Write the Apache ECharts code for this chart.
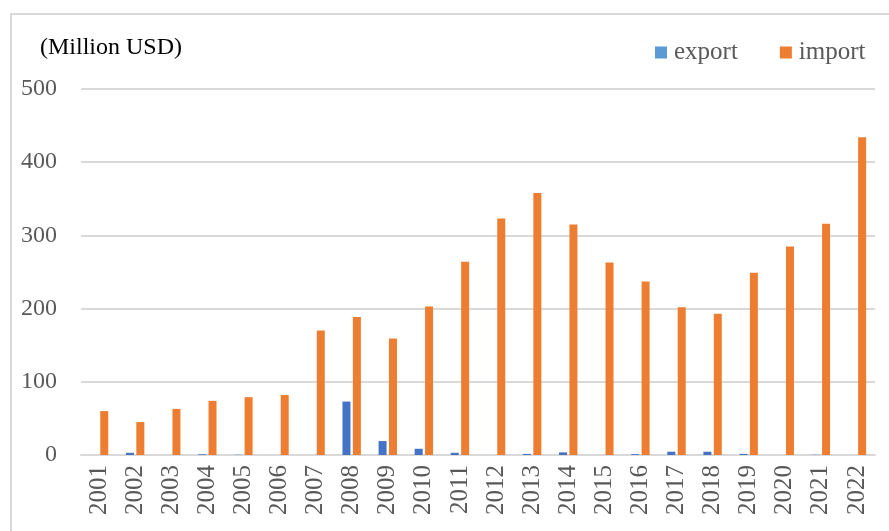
<!DOCTYPE html>
<html>
<head>
<meta charset="utf-8">
<script src="https://cdn.jsdelivr.net/npm/echarts@6/dist/echarts.min.js"></script>
<style>
  html, body { margin: 0; padding: 0; background: #fff; }
  #chart { width: 889px; height: 531px; }
</style>
</head>
<body>
<div id="chart"></div>
<script>
// Annual trade values, million USD
var years = ['2001','2002','2003','2004','2005','2006','2007','2008','2009','2010','2011',
             '2012','2013','2014','2015','2016','2017','2018','2019','2020','2021','2022'];
var exportValues = [0, 3, 0, 1, 0.3, 0, 0, 73, 19, 8.5, 3,
                    0, 1.5, 3.6, 0, 1.2, 4.5, 4.5, 1.5, 0, 0.3, 0];
var importValues = [60, 45, 63, 74, 79, 82, 170, 188.5, 159, 203, 264,
                    323, 358, 315, 263, 237, 202, 193, 249, 285, 316, 434];
var yTicks = [0, 100, 200, 300, 400, 500];

var serif = '"Liberation Serif", "DejaVu Serif", serif';
var chart = echarts.init(document.getElementById('chart'), null, { renderer: 'canvas' });

chart.setOption({
  animation: false,
  backgroundColor: '#ffffff',
  graphic: [
    {
      type: 'rect',
      shape: { x: 11, y: 14, width: 900, height: 600 },
      style: { fill: 'none', stroke: '#d9d9d9', lineWidth: 2 },
      silent: true
    },
    {
      type: 'text',
      left: 40,
      top: 36,
      style: { text: '(Million USD)', font: '24px ' + serif, fill: '#000000' }
    }
  ],
  legend: {
    left: 650,
    top: 35,
    icon: 'rect',
    itemWidth: 12,
    itemHeight: 12,
    itemGap: 42,
    textStyle: { fontFamily: serif, fontSize: 25, color: '#595959', padding: [0, 0, 0, 2] },
    data: [
      { name: 'export', itemStyle: { color: '#5B9BD5' } },
      { name: 'import', itemStyle: { color: '#ED7D31' } }
    ]
  },
  grid: { left: 81, right: 14, top: 89, bottom: 76, containLabel: false },
  xAxis: {
    type: 'category',
    data: years,
    axisLine: { show: true, lineStyle: { color: '#d9d9d9', width: 2 } },
    axisTick: { show: false },
    axisLabel: {
      rotate: 90,
      margin: 10,
      interval: 0,
      fontFamily: serif,
      fontSize: 25,
      color: '#595959'
    }
  },
  yAxis: {
    type: 'value',
    min: yTicks[0],
    max: yTicks[yTicks.length - 1],
    interval: 100,
    axisLine: { show: false },
    axisTick: { show: false },
    splitLine: { lineStyle: { color: '#d9d9d9', width: 2 } },
    axisLabel: {
      margin: 24,
      fontFamily: serif,
      fontSize: 24,
      color: '#595959'
    }
  },
  series: [
    {
      name: 'export',
      type: 'bar',
      data: exportValues,
      barWidth: 8,
      barGap: '30%',
      itemStyle: { color: '#4472C4' }
    },
    {
      name: 'import',
      type: 'bar',
      data: importValues,
      barWidth: 8,
      barGap: '30%',
      itemStyle: { color: '#ED7D31' }
    }
  ]
});
</script>
</body>
</html>
